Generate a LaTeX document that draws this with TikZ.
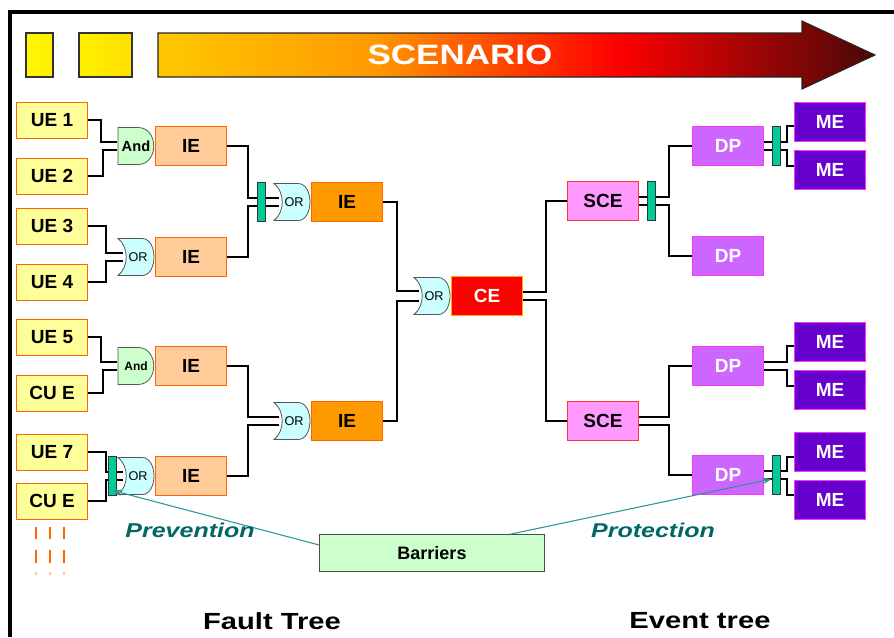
\documentclass[tikz,border=0pt]{standalone}
\usepackage{fontspec}
\setmainfont{Liberation Sans}
\newfontfamily\widefont[FakeStretch=1.25]{Liberation Sans}
\usetikzlibrary{arrows.meta,positioning,backgrounds}
\tikzset{>={Stealth[length=7pt,width=5pt]}}

\definecolor{uefill}{HTML}{FFFF99}
\definecolor{uedraw}{HTML}{FF6600}
\definecolor{iefill}{HTML}{FFCC99}
\definecolor{ieorange}{HTML}{FF9900}
\definecolor{ceedge}{HTML}{FFAA00}
\definecolor{scefill}{HTML}{FF99FF}
\definecolor{sceedge}{HTML}{FF3333}
\definecolor{dpfill}{HTML}{CC66FF}
\definecolor{dpedge}{HTML}{FF33FF}
\definecolor{mefill}{HTML}{6600CC}
\definecolor{andfill}{HTML}{CCFFCC}
\definecolor{orfill}{HTML}{CCFFFF}
\definecolor{gateedge}{HTML}{555555}
\definecolor{barfill}{HTML}{00CC99}
\definecolor{linkcol}{HTML}{2F9494}
\definecolor{labcol}{HTML}{006666}
\definecolor{scA}{HTML}{FFC800}
\definecolor{scB}{HTML}{FF9A00}
\definecolor{scC}{HTML}{FF6A00}
\definecolor{scD}{HTML}{FF0000}
\definecolor{scE}{HTML}{4A0808}
\pgfdeclarehorizontalshading{scenario}{100bp}{color(0bp)=(scA); color(25bp)=(scA);
  color(40bp)=(scB); color(45bp)=(scC); color(57bp)=(scD); color(75bp)=(scE); color(100bp)=(scE)}

\tikzset{box/.style={draw,line width=0.6pt,minimum width=53pt,minimum height=29.25pt,inner sep=0pt,
                     font=\bfseries\fontsize{14.25}{16}\selectfont},
         ue/.style={box,fill=uefill,draw=uedraw,minimum height=27pt},
         ie/.style={box,fill=iefill,draw=uedraw},
         iemid/.style={box,fill=ieorange,draw=uedraw},
         ce/.style={box,fill=red,draw=ceedge,text=white},
         sce/.style={box,fill=scefill,draw=sceedge},
         dp/.style={box,fill=dpfill,draw=dpedge,text=white},
         me/.style={box,fill=mefill,draw=dpedge,text=white},
         gate/.style={minimum width=28.5pt,minimum height=29.25pt,inner sep=0pt},
         andgate/.style={gate,font=\bfseries\fontsize{11}{12}\selectfont},
         orgate/.style={gate,font=\fontsize{9.5}{10}\selectfont,execute at begin node=\hspace{3pt}},
         andbody/.pic={\draw[gateedge,fill=andfill,line width=0.6pt] (-18,-18.5) -- (2,-18.5)
               .. controls (23,-18.5) and (23,18.5) .. (2,18.5) -- (-18,18.5) -- cycle;},
         orbody/.pic={\draw[gateedge,fill=orfill,line width=0.6pt] (-18,-18.5) -- (6,-18.5)
               .. controls (22,-18.5) and (22,18.5) .. (6,18.5) -- (-18,18.5)
               .. controls (-7,10) and (-7,-10) .. (-18,-18.5) -- cycle;},
         barrier/.style={draw=black!80,fill=barfill,line width=0.6pt,minimum width=6pt,
                         minimum height=29pt,inner sep=0pt},
         wire/.style={draw,line width=1.3pt,black},
         elbow/.style={to path={-- ++(#1,0) |- (\tikztotarget) \tikztonodes}},
         link/.style={->,draw=linkcol,line width=0.8pt},
         tag/.style={text=labcol,font=\widefont\bfseries\itshape\fontsize{15}{16}\selectfont},
         title/.style={font=\widefont\bfseries\fontsize{17.5}{18}\selectfont},
        }

\begin{document}
\begin{tikzpicture}[x=0.75pt,y=-0.75pt]
    \useasboundingbox (0,0) rectangle (894,637);

    % frame and scenario arrow
    \draw[line width=2.6pt] (894,12) -- (10,12) -- (10,637);
    \shadedraw[left color=yellow!95!orange,right color=yellow!85!orange,draw=black!80,line width=0.8pt]
        (26,33) rectangle (53,77);
    \shadedraw[left color=yellow!88!orange,right color=yellow!75!orange,draw=black!80,line width=0.8pt]
        (79,33) rectangle (132,77);
    \shadedraw[shading=scenario,draw=black!85,line width=0.8pt]
        (158,33) -- (802,33) -- (802,21) -- (875,55) -- (802,89) -- (802,77) -- (158,77) -- cycle;
    \node[text=white,font=\widefont\bfseries\fontsize{21}{22}\selectfont] (scen) at (460,55) {SCENARIO};

    % fault tree
    \node[ue] (ue1) at (52,120) {UE 1};
    \node[ue] (ue2) at (52,176) {UE 2};
    \node[ue] (ue3) at (52,226) {UE 3};
    \node[ue] (ue4) at (52,282) {UE 4};
    \node[ue] (ue5) at (52,337) {UE 5};
    \node[ue] (cue1) at (52,393) {CU E};
    \node[ue] (ue7) at (52,452) {UE 7};
    \node[ue] (cue2) at (52,501) {CU E};

    \node[andgate] (g1) at (136,146) {And};
    \node[orgate] (g2) at (136,257) {OR};
    \node[andgate,font=\bfseries\fontsize{9}{10}\selectfont] (g3) at (136,366) {And};
    \node[orgate] (g4) at (136,476) {OR};
    \node[ie] (ie1) [right=0pt of g1] {IE};
    \node[ie] (ie2) [right=0pt of g2] {IE};
    \node[ie] (ie3) [right=0pt of g3] {IE};
    \node[ie] (ie4) [right=0pt of g4] {IE};

    \node[orgate] (g5) at (292,202) {OR};
    \node[orgate] (g6) at (292,421) {OR};
    \node[iemid] (ie5) [right=0pt of g5] {IE};
    \node[iemid] (ie6) [right=0pt of g6] {IE};

    \node[orgate] (g7) at (432,296) {OR};
    \node[ce] (ce) [right=0pt of g7] {CE};

    % event tree
    \node[sce] (sce1) at (603,201) {SCE};
    \node[sce] (sce2) at (603,421) {SCE};
    \node[dp] (dp1) at (728,146) {DP};
    \node[dp] (dp2) at (728,256) {DP};
    \node[dp] (dp3) at (728,366) {DP};
    \node[dp] (dp4) at (728,475) {DP};
    \node[me] (me1) at (830,122) {ME};
    \node[me] (me2) at (830,170) {ME};
    \node[me] (me3) at (830,342) {ME};
    \node[me] (me4) at (830,390) {ME};
    \node[me] (me5) at (830,452) {ME};
    \node[me] (me6) at (830,500) {ME};

    % barriers
    \node[barrier] (b1) [left=0pt of g4] {};
    \node[barrier] (b2) [left=5pt of g5] {};
    \node[barrier] (b3) [right=6pt of sce1] {};
    \node[barrier] (b4) [right=6pt of dp1] {};
    \node[barrier] (b5) [right=6pt of dp4] {};

    \begin{scope}[on background layer]
    \path[wire]
    (ue1.east) edge[elbow=13] ([yshift=3pt]g1.west)
    (ue2.east) edge[elbow=15] ([yshift=-3pt]g1.west)
    (ue3.east) edge[elbow=18] ([xshift=5pt,yshift=3pt]g2.west)
    (ue4.east) edge[elbow=18] ([xshift=5pt,yshift=-3pt]g2.west)
    (ue5.east) edge[elbow=13] ([yshift=3pt]g3.west)
    (cue1.east) edge[elbow=15] ([yshift=-3pt]g3.west)
    (ue7.east) edge[elbow=18] ([xshift=5pt,yshift=3pt]g4.west)
    (cue2.east) edge[elbow=18] ([xshift=5pt,yshift=-3pt]g4.west);

    \path[wire]
    (ie1.east) edge[elbow=21] ([xshift=5pt,yshift=3pt]g5.west)
    (ie2.east) edge[elbow=21] ([xshift=5pt,yshift=-3pt]g5.west)
    (ie3.east) edge[elbow=21] ([xshift=5pt,yshift=3pt]g6.west)
    (ie4.east) edge[elbow=21] ([xshift=5pt,yshift=-3pt]g6.west)
    (ie5.east) edge[elbow=14] ([xshift=5pt,yshift=3.5pt]g7.west)
    (ie6.east) edge[elbow=14] ([xshift=5pt,yshift=-3.5pt]g7.west);

    \path[wire]
    ([yshift=3pt]ce.east) edge[elbow=23] (sce1.west)
    ([yshift=-3pt]ce.east) edge[elbow=23] (sce2.west)
    ([yshift=3pt]sce1.east) edge[elbow=30] (dp1.west)
    ([yshift=-3pt]sce1.east) edge[elbow=30] (dp2.west)
    ([yshift=3pt]sce2.east) edge[elbow=30] (dp3.west)
    ([yshift=-3pt]sce2.east) edge[elbow=30] (dp4.west)
    ([yshift=3pt]dp1.east) edge[elbow=23] ([yshift=-3pt]me1.west)
    ([yshift=-3pt]dp1.east) edge[elbow=23] ([yshift=3pt]me2.west)
    ([yshift=3pt]dp3.east) edge[elbow=23] ([yshift=-3pt]me3.west)
    ([yshift=-3pt]dp3.east) edge[elbow=23] ([yshift=3pt]me4.west)
    ([yshift=3pt]dp4.east) edge[elbow=23] ([yshift=-3.5pt]me5.west)
    ([yshift=-3pt]dp4.east) edge[elbow=23] ([yshift=3.5pt]me6.west);

    % gate bodies under their labels
    \foreach \g in {g1,g3} \pic at (\g) {andbody};
    \foreach \g in {g2,g4,g5,g6,g7} \pic at (\g) {orbody};
    \end{scope}

    % barriers box and its pointers
    \node[draw=black!70,fill=andfill,minimum width=168.75pt,minimum height=27.75pt,
          font=\bfseries\fontsize{13.5}{14}\selectfont] (barriers) at (432,553) {Barriers};
    \draw[link] ([yshift=6pt]barriers.west) -- ([yshift=4pt]b1.south);
    \draw[link] ([xshift=-26pt]barriers.north east) -- ([yshift=-3pt]b5.west);

    \node[tag] (prev) at (190,530) {Prevention};
    \node[tag] (prot) at (653,530) {Protection};
    \node[title] (ft) at (272,621) {Fault Tree};
    \node[title] (et) at (700,621) {Event tree};

    % more events below
    \foreach \x in {36,50,64} {
        \draw[uedraw,line width=2.2pt] (\x,527) -- (\x,539);
        \draw[uedraw,line width=2.2pt] (\x,550) -- (\x,563);
        \draw[uedraw!40,line width=2.2pt] (\x,572) -- (\x,575);
    }

\end{tikzpicture}
\end{document}
